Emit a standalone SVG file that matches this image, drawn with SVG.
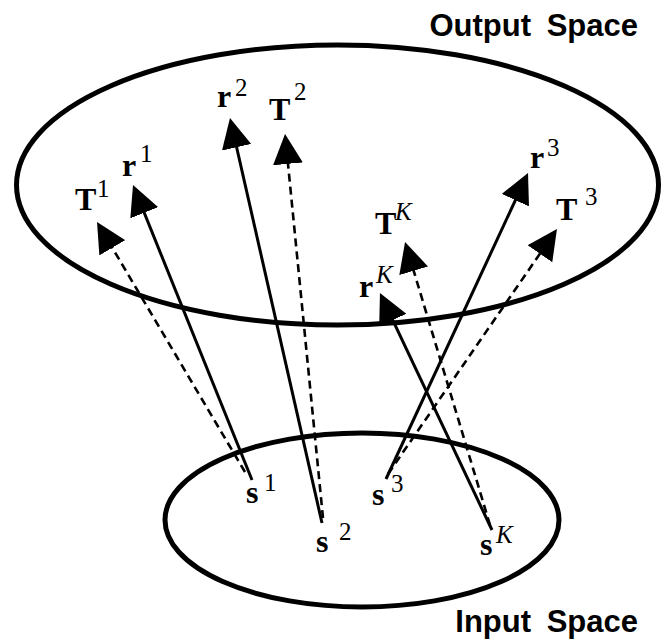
<svg xmlns="http://www.w3.org/2000/svg" width="662" height="639" viewBox="0 0 662 639">
<style>
.sp{fill:none;stroke:#000;stroke-width:5}
.sol{fill:none;stroke:#000;stroke-width:3}
.dash{fill:none;stroke:#000;stroke-width:2.6;stroke-dasharray:8 5}
.b{font-family:"Liberation Serif","Times New Roman",serif;font-weight:bold;font-size:32px;fill:#000}
.sup{font-family:"Liberation Serif","Times New Roman",serif;font-size:25px;fill:#000}
.it{font-style:italic}
.title{font-family:"Liberation Sans",Arial,sans-serif;font-weight:bold;font-size:31px;fill:#000;word-spacing:7px}
</style>
<defs>
<marker id="ah" markerUnits="userSpaceOnUse" viewBox="0 0 30 30" markerWidth="30" markerHeight="30" refX="10" refY="15" orient="auto">
<path d="M0,0 L30,15 L0,30 z" fill="#000"/>
</marker>
</defs>
<g id="output-space">
<ellipse class="sp" cx="337.5" cy="185" rx="321" ry="140"/>
<text class="title" x="638" y="36" text-anchor="end">Output Space</text>
</g>
<g id="input-space">
<ellipse class="sp" cx="362" cy="520" rx="197" ry="87"/>
<text class="title" x="638" y="632" text-anchor="end">Input Space</text>
</g>
<g id="connectors">
<line class="sol" x1="252" y1="480" x2="140.5" y2="203.5" marker-end="url(#ah)"/>
<line class="dash" x1="245" y1="472" x2="107.2" y2="239.2" marker-end="url(#ah)"/>
<line class="sol" x1="322" y1="523" x2="234.4" y2="137.5" marker-end="url(#ah)"/>
<line class="dash" x1="323" y1="518" x2="287" y2="153.9" marker-end="url(#ah)"/>
<line class="sol" x1="386" y1="479" x2="519.6" y2="191.1" marker-end="url(#ah)"/>
<line class="dash" x1="388" y1="474" x2="545.6" y2="245.5" marker-end="url(#ah)"/>
<line class="sol" x1="492" y1="530" x2="388.5" y2="311.1" marker-end="url(#ah)"/>
<line class="dash" x1="490" y1="525" x2="410.8" y2="261.2" marker-end="url(#ah)"/>
</g>
<g id="label-T1"><text class="b" x="75" y="210">T</text><text class="sup" x="97" y="197">1</text></g>
<g id="label-r1"><text class="b" x="122" y="176">r</text><text class="sup" x="140" y="162">1</text></g>
<g id="label-r2"><text class="b" x="217" y="107">r</text><text class="sup" x="235" y="96">2</text></g>
<g id="label-T2"><text class="b" x="269" y="120">T</text><text class="sup" x="294" y="100">2</text></g>
<g id="label-r3"><text class="b" x="530" y="168">r</text><text class="sup" x="547" y="156">3</text></g>
<g id="label-T3"><text class="b" x="556" y="220">T</text><text class="sup" x="585" y="205">3</text></g>
<g id="label-TK"><text class="b" x="375" y="234">T</text><text class="sup it" x="395" y="220">K</text></g>
<g id="label-rK"><text class="b" x="359" y="297">r</text><text class="sup it" x="376" y="283">K</text></g>
<g id="label-s1"><text class="b" x="246" y="503">s</text><text class="sup" x="264" y="491">1</text></g>
<g id="label-s2"><text class="b" x="316" y="552">s</text><text class="sup" x="339" y="540">2</text></g>
<g id="label-s3"><text class="b" x="372" y="505">s</text><text class="sup" x="391" y="492">3</text></g>
<g id="label-sK"><text class="b" x="480" y="555">s</text><text class="sup it" x="496" y="543">K</text></g>
</svg>
